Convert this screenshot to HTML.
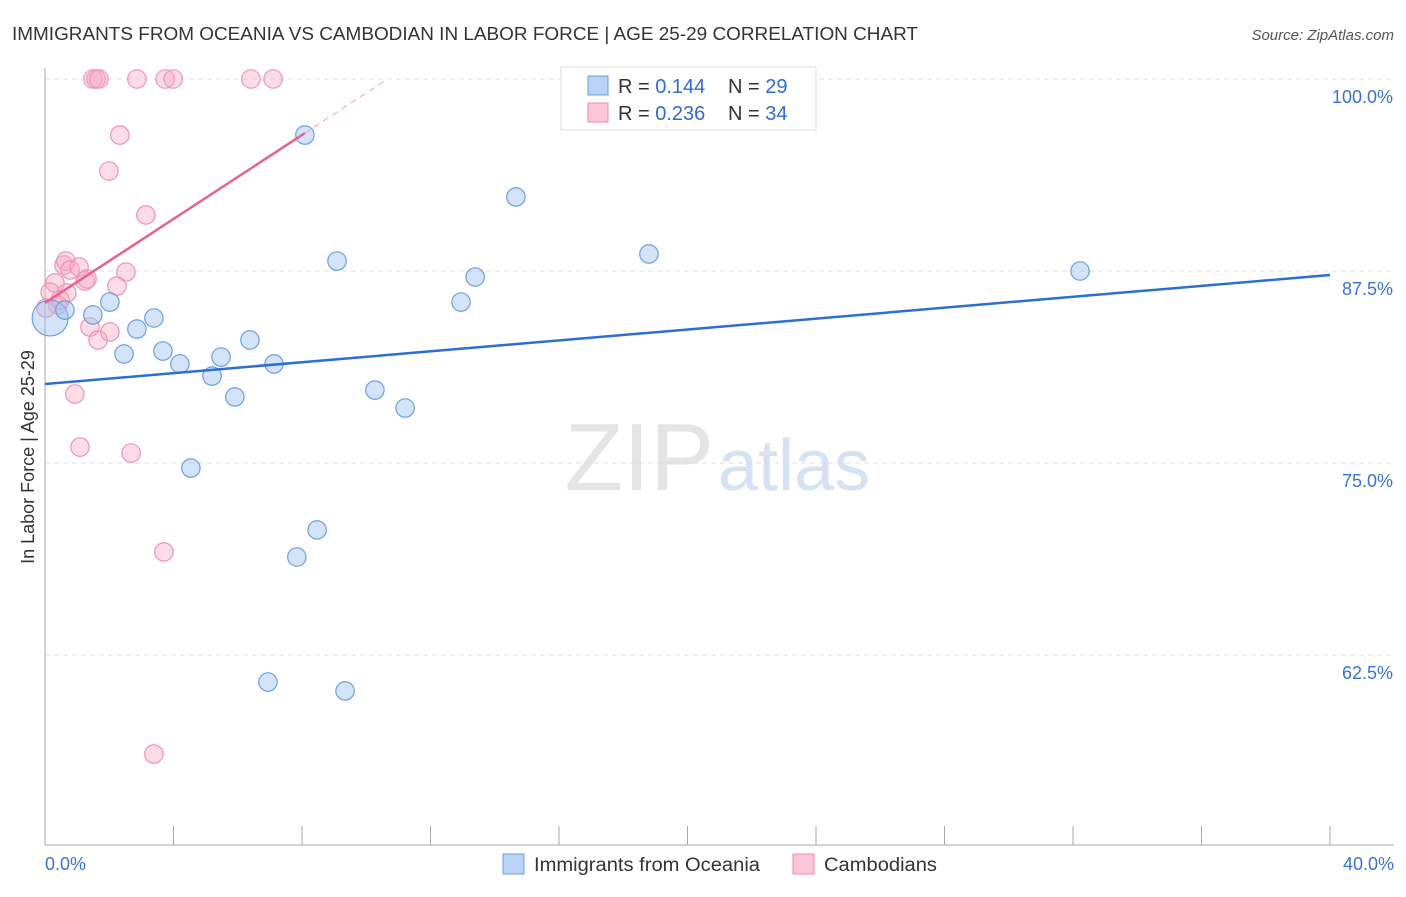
<!DOCTYPE html>
<html><head><meta charset="utf-8"><style>
body{margin:0;background:#fff;font-family:"Liberation Sans",sans-serif;}
svg text{font-family:"Liberation Sans",sans-serif;}
</style></head><body>
<svg id="chart" width="1406" height="892" xmlns="http://www.w3.org/2000/svg">
<text x="12" y="40" font-size="18" fill="#333" textLength="906" lengthAdjust="spacingAndGlyphs">IMMIGRANTS FROM OCEANIA VS CAMBODIAN IN LABOR FORCE | AGE 25-29 CORRELATION CHART</text>
<text x="1394" y="40" font-size="15" fill="#555" font-style="italic" text-anchor="end">Source: ZipAtlas.com</text>
<text x="714" y="490" font-size="96" fill="#e4e4e4" font-family="Liberation Serif" text-anchor="end">ZIP</text>
<text x="718" y="490" font-size="72" fill="#d6e2f3">atlas</text>
<g id="grid"></g>
<g id="axes"></g>
<g id="marks"></g>
<text transform="translate(34,457) rotate(-90)" font-size="18" fill="#333" text-anchor="middle">In Labor Force | Age 25-29</text>
<g>
<rect x="561" y="67" width="255" height="63" fill="#fff" stroke="#ddd"/>
<rect x="588" y="76" width="20" height="19" fill="#b9d3f5" stroke="#6a9ee0"/>
<rect x="588" y="103" width="20" height="19" fill="#fcc6d6" stroke="#ee8aaa"/>
<text x="618" y="93" font-size="20" fill="#333">R = <tspan fill="#2f6ccf">0.144</tspan><tspan x="728">N = </tspan><tspan fill="#2f6ccf">29</tspan></text>
<text x="618" y="120" font-size="20" fill="#333">R = <tspan fill="#2f6ccf">0.236</tspan><tspan x="728">N = </tspan><tspan fill="#2f6ccf">34</tspan></text>
</g>
<g>
<rect x="503" y="854" width="21" height="20" fill="#b9d3f5" stroke="#6a9ee0"/>
<text x="534" y="871" font-size="19" fill="#333" textLength="226" lengthAdjust="spacingAndGlyphs">Immigrants from Oceania</text>
<rect x="793" y="854" width="21" height="20" fill="#fcc6d6" stroke="#ee8aaa"/>
<text x="824" y="871" font-size="19" fill="#333" textLength="113" lengthAdjust="spacingAndGlyphs">Cambodians</text>
</g>
</svg>
<script>
const yTicks=[100,87.5,75,62.5];
const yTickLabels=["100.0%","87.5%","75.0%","62.5%"];
const xEndLabels=["0.0%","40.0%"];
const blueX=[0.16,0.62,1.49,2.02,2.46,2.86,3.39,3.67,4.20,4.54,5.20,5.48,5.91,6.38,6.94,7.13,7.84,8.09,8.47,9.09,9.34,10.27,11.21,12.95,13.39,14.66,18.80,32.22];
const blueY=[84.44,84.96,84.64,85.48,82.10,83.72,84.44,82.29,81.45,74.67,80.66,81.90,79.30,83.01,60.74,81.45,68.88,96.35,70.64,88.15,60.16,79.75,78.58,85.48,87.11,92.32,88.61,87.50];
const pinkX=[1.49,1.59,1.68,2.86,3.74,3.99,6.41,7.10,2.33,1.99,3.14,0.59,0.65,0.78,1.06,1.25,1.31,2.52,2.24,0.31,0.16,0.68,0.03,0.40,1.40,1.65,2.02,0.93,1.09,2.68,3.70,3.39,0.47];
const pinkY=[100,100,100,100,100,100,100,100,96.35,94.01,91.15,87.89,88.15,87.57,87.76,86.85,86.98,87.43,86.52,86.72,86.13,86.07,85.09,85.29,83.85,83.01,83.53,79.49,76.04,75.65,69.21,56.05,85.61];
const blueTrend=[80.14,87.24];
const pinkTrend=[85.42,1.367];
const NS="http://www.w3.org/2000/svg";
const sx=v=>45+v/40*1285;
const sy=v=>79+(100-v)/12.5*192;
function mk(tag,attrs,parent){const e=document.createElementNS(NS,tag);for(const k in attrs)e.setAttribute(k,attrs[k]);document.getElementById(parent).appendChild(e);return e;}
yTicks.forEach((t,i)=>{
 const l=mk('line',{x1:45,x2:1394,y1:sy(t),y2:sy(t),stroke:'#ddd','stroke-dasharray':'5,4'},'grid');
 
 
 const tx=mk('text',{x:1393,y:sy(t)+24,'font-size':18,fill:'#3b73d1','text-anchor':'end'},'axes');
 tx.textContent=yTickLabels[i];
 
 
});
const ya=mk('line',{x1:45,x2:45,y1:68,y2:845,stroke:'#aaa'},'axes');


const xa=mk('line',{x1:45,x2:1394,y1:845,y2:845,stroke:'#aaa'},'axes');


for(let i=0;i<=10;i++){
 const t=mk('line',{x1:sx(i*4),x2:sx(i*4),y1:826,y2:845,stroke:'#aaa'},'axes');
 
 
}
[[0,'start',45],[40,'end',1394]].forEach((d,i)=>{
 const t=mk('text',{x:d[2],y:870,'font-size':18,fill:'#3b73d1','text-anchor':d[1]},'axes');
 t.textContent=xEndLabels[i];
 
 
});
pinkX.forEach((x,i)=>{
 const c=mk('circle',{cx:sx(x),cy:sy(pinkY[i]),r:9.2,fill:'rgba(248,170,195,0.4)',stroke:'#ee95b2','stroke-width':1.2},'marks');
 
 
});
blueX.forEach((x,i)=>{
 const c=mk('circle',{cx:sx(x),cy:sy(blueY[i]),r:i===0?18:9.2,fill:'rgba(160,195,240,0.45)',stroke:'#6c9fe2','stroke-width':1.2},'marks');
 
 
});
const bl=mk('line',{x1:sx(0),y1:sy(blueTrend[0]),x2:sx(40),y2:sy(blueTrend[1]),stroke:'#2b6fd4','stroke-width':2.5},'marks');


const pl=mk('line',{x1:sx(0),y1:sy(pinkTrend[0]),x2:sx(8.09),y2:sy(pinkTrend[0]+pinkTrend[1]*8.09),stroke:'#e8628e','stroke-width':2.5},'marks');


const pd=mk('line',{x1:sx(8.09),y1:sy(pinkTrend[0]+pinkTrend[1]*8.09),x2:sx(10.6),y2:sy(pinkTrend[0]+pinkTrend[1]*10.6),stroke:'#f0a0b8','stroke-width':1,'stroke-dasharray':'6,5'},'marks');


</script>
</body></html>
